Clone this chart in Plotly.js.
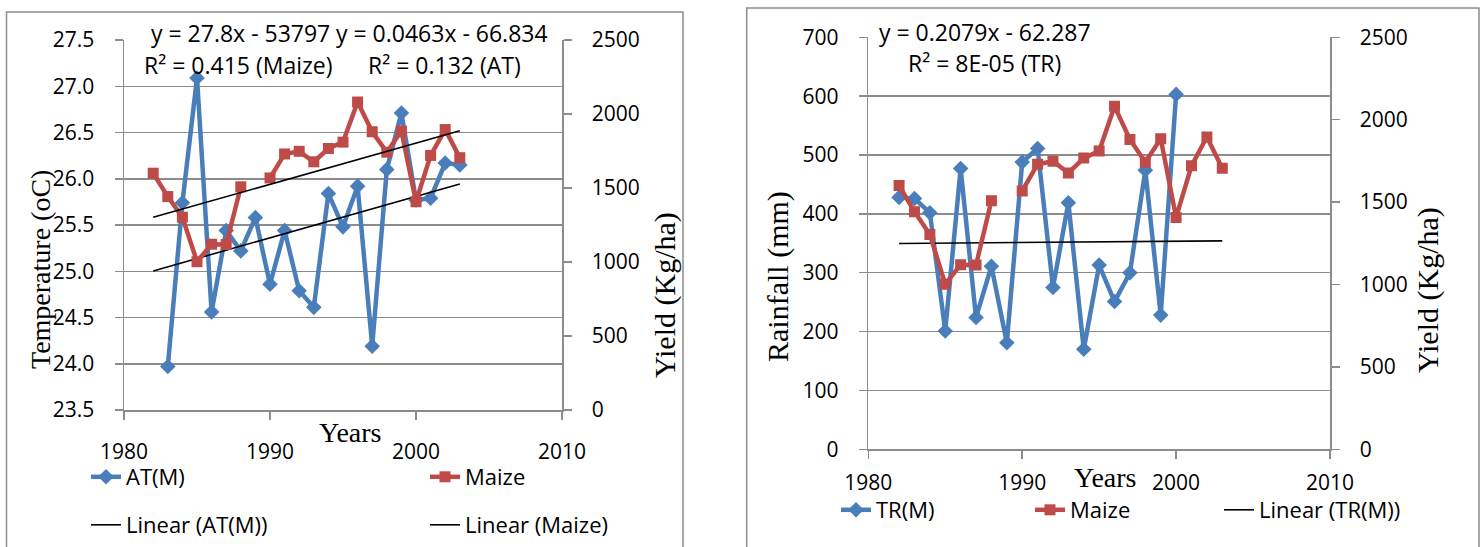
<!DOCTYPE html>
<html><head><meta charset="utf-8">
<script src="https://cdn.plot.ly/plotly-3.0.1.min.js"></script>
<style>html,body{margin:0;padding:0;background:#fff}#chart{width:1484px;height:547px}</style>
</head><body><div id="chart"></div>
<script>
// ---- data ----
const years = [1982,1983,1984,1985,1986,1987,1988,1989,1990,1991,1992,1993,1994,1995,1996,1997,1998,1999,2000,2001,2002,2003];
const atM   = [null,23.97,25.74,27.09,24.56,25.44,25.22,25.58,24.86,25.44,24.79,24.61,25.84,25.48,25.92,24.19,26.10,26.71,25.77,25.79,26.17,26.15];
const maize = [1600,1442,1303,1002,1120,1118,1508,null,1568,1730,1748,1677,1767,1810,2081,1880,1742,1885,1407,1720,1895,1705];
const trM   = [428,426,402,201,477,224,311,181,488,511,275,419,170,313,251,300,474,228,603,null,null,null];
const trendYears = [1982, 2003];
const maizeTrendCoef = [27.8, -53797];      // Linear (Maize), as printed
const trTrendCoef    = [0.2079, -62.287];   // Linear (TR(M)), as printed
const xTicks = [1980, 1990, 2000, 2010];
const eqLeft1 = "y = 27.8x - 53797";
const eqLeft2 = "y = 0.0463x - 66.834";
const r2Left1 = "R² = 0.415 (Maize)";
const r2Left2 = "R² = 0.132 (AT)";
const eqRight = "y = 0.2079x - 62.287";
const r2Right = "R² = 8E-05 (TR)";

const line = (c) => trendYears.map(x => c[0]*x + c[1]);
// least-squares fit of a series (like the spreadsheet trendline)
function fit(xs, ys) {
  const p = xs.map((x, i) => [x, ys[i]]).filter(q => q[1] !== null);
  const n = p.length, mx = p.reduce((s, q) => s + q[0], 0) / n, my = p.reduce((s, q) => s + q[1], 0) / n;
  let sxy = 0, sxx = 0;
  p.forEach(q => { sxy += (q[0] - mx) * (q[1] - my); sxx += (q[0] - mx) ** 2; });
  const b = sxy / sxx;
  return [b, my - b * mx];
}
const atTrendCoef = fit(years, atM);

// ---- geometry helpers (pixels -> paper) ----
const W = 1484, H = 547;
const px = v => v / W;
const py = v => 1 - v / H;

const BLUE = '#4A7EBB', RED = '#BE4B48', GRID = '#8C8C8C';
const SANS = 'Open Sans, Arial, sans-serif';
const SERIF = 'Liberation Serif, Times New Roman, serif';

const traces = [
  {x: years, y: atM, name: 'AT(M)', xaxis: 'x', yaxis: 'y', mode: 'lines+markers',
   line: {color: BLUE, width: 4.5}, marker: {symbol: 'diamond', size: 12, color: BLUE},
   legend: 'legend', legendwidth: 294},
  {x: years, y: maize, name: 'Maize', xaxis: 'x', yaxis: 'y2', mode: 'lines+markers',
   line: {color: RED, width: 4.5}, marker: {symbol: 'square', size: 11, color: RED},
   legend: 'legend'},
  {x: trendYears, y: line(atTrendCoef), name: 'Linear (AT(M))', xaxis: 'x', yaxis: 'y', mode: 'lines',
   line: {color: '#000', width: 1.6}, legend: 'legend2', legendwidth: 294},
  {x: trendYears, y: line(maizeTrendCoef), name: 'Linear (Maize)', xaxis: 'x', yaxis: 'y2', mode: 'lines',
   line: {color: '#000', width: 1.6}, legend: 'legend2'},
  {x: years, y: trM, name: 'TR(M)', xaxis: 'x2', yaxis: 'y3', mode: 'lines+markers',
   line: {color: BLUE, width: 4.5}, marker: {symbol: 'diamond', size: 12, color: BLUE},
   legend: 'legend3', legendwidth: 149},
  {x: years, y: maize, name: 'Maize', xaxis: 'x2', yaxis: 'y4', mode: 'lines+markers',
   line: {color: RED, width: 4.5}, marker: {symbol: 'square', size: 11, color: RED},
   legend: 'legend3', legendwidth: 144},
  {x: trendYears, y: line(trTrendCoef), name: 'Linear (TR(M))', xaxis: 'x2', yaxis: 'y3', mode: 'lines',
   line: {color: '#000', width: 1.6}, legend: 'legend3'}
];

const tickFont = {family: SANS, size: 21, color: '#000'};
const xCommon = {range: [1980, 2010], tickvals: xTicks, showgrid: false, zeroline: false,
  showline: true, linecolor: GRID, linewidth: 1.5, ticks: 'outside', ticklen: 8, tickcolor: GRID,
  tickwidth: 1.5, tickfont: tickFont};
const yLeftCommon = {showgrid: true, gridcolor: GRID, gridwidth: 1.5, zeroline: false,
  showline: true, linecolor: GRID, linewidth: 1.5, ticks: 'outside', ticklen: 8, tickcolor: GRID,
  tickwidth: 1.5, tickfont: tickFont, ticklabelstandoff: 16};
const yRightCommon = {side: 'right', showgrid: false, zeroline: false, range: [0, 2500], dtick: 500,
  showline: true, linecolor: GRID, linewidth: 1.5, ticks: 'outside', ticklen: 8, tickcolor: GRID,
  tickwidth: 1.5, tickfont: tickFont, ticklabelstandoff: 16};

const legendFont = {family: SANS, size: 22, color: '#000'};
const legCommon = {orientation: 'h', xanchor: 'left', yanchor: 'middle', bgcolor: 'rgba(0,0,0,0)',
  font: legendFont, itemwidth: 30, traceorder: 'normal'};

const ann = (text, x, y, size) => ({text, xref: 'paper', yref: 'paper',
  x: px(x), y: py(y), showarrow: false, font: {family: SANS, size: size || 23, color: '#000'},
  xanchor: 'left', yanchor: 'middle'});
const title = (text, x, y, size, angle) => ({text, xref: 'paper', yref: 'paper', x: px(x), y: py(y),
  showarrow: false, textangle: angle || 0, xanchor: 'center', yanchor: 'middle',
  font: {family: SERIF, size: size, color: '#000'}});

const layout = {
  width: W, height: H, margin: {l: 0, r: 0, t: 0, b: 0},
  paper_bgcolor: '#fff', plot_bgcolor: 'rgba(0,0,0,0)',
  xaxis: Object.assign({}, xCommon, {domain: [px(124), px(562)], anchor: 'y', ticklabelstandoff: 14}),
  yaxis: Object.assign({}, yLeftCommon, {domain: [py(410), py(40)], anchor: 'x', range: [23.5, 27.5], dtick: 0.5, tickformat: '.1f'}),
  yaxis2: Object.assign({}, yRightCommon, {overlaying: 'y', anchor: 'x'}),
  xaxis2: Object.assign({}, xCommon, {domain: [px(868.3), px(1330)], anchor: 'y3', ticklabelstandoff: 6}),
  yaxis3: Object.assign({}, yLeftCommon, {domain: [py(449.3), py(37.3)], anchor: 'x2', range: [0, 700], dtick: 100}),
  yaxis4: Object.assign({}, yRightCommon, {overlaying: 'y3', anchor: 'x2'}),
  legend: Object.assign({}, legCommon, {x: px(86), y: py(477)}),
  legend2: Object.assign({}, legCommon, {x: px(86), y: py(525)}),
  legend3: Object.assign({}, legCommon, {x: px(836), y: py(510)}),
  showlegend: true,
  annotations: [
    ann(eqLeft1, 149, 33), ann(eqLeft2, 334, 33),
    ann(r2Left1, 142, 65), ann(r2Left2, 366, 65),
    ann(eqRight, 877, 32), ann(r2Right, 906, 63),
    title('Temperature (oC)', 40, 270, 28, -90),
    title('Yield (Kg/ha)', 665, 295, 30, -90),
    title('Years', 350, 432, 28),
    title('Rainfall (mm)', 778, 277, 30, -90),
    title('Yield (Kg/ha)', 1428, 290, 30, -90),
    title('Years', 1105, 478, 28)
  ],
  shapes: [
    {type: 'rect', xref: 'paper', yref: 'paper', x0: px(6.5), x1: px(683), y0: -0.2, y1: py(12),
     line: {color: GRID, width: 1.5}},
    {type: 'rect', xref: 'paper', yref: 'paper', x0: px(746.7), x1: px(1479), y0: -0.2, y1: py(8),
     line: {color: GRID, width: 1.5}}
  ]
};

Plotly.newPlot('chart', traces, layout, {displayModeBar: false, staticPlot: true});
</script>
</body></html>
